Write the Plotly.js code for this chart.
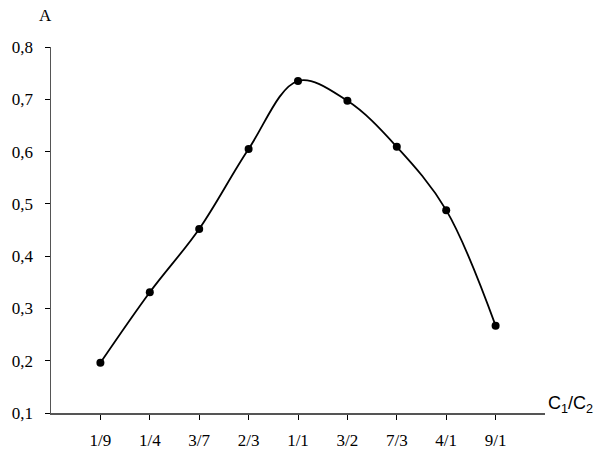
<!DOCTYPE html>
<html>
<head>
<meta charset="utf-8">
<script src="https://cdn.plot.ly/plotly-3.0.1.min.js"></script>
<style>html,body{margin:0;padding:0;background:#fff;}#chart{width:598px;height:452px;}</style>
</head>
<body>
<div id="chart"></div>
<script>
const ratios = ["1/9", "1/4", "3/7", "2/3", "1/1", "3/2", "7/3", "4/1", "9/1"];
const absorbance = [0.196, 0.331, 0.452, 0.605, 0.735, 0.697, 0.609, 0.488, 0.267];
const yTickVals = [0.1, 0.2, 0.3, 0.4, 0.5, 0.6, 0.7, 0.8];
const yTickText = ["0,1", "0,2", "0,3", "0,4", "0,5", "0,6", "0,7", "0,8"];
const yLabel = "A";
const xLabel = "C<sub>1</sub>/C<sub>2</sub>";

const SERIF = "Liberation Serif";
const SANS = "Liberation Sans";

const trace = {
  x: ratios,
  y: absorbance,
  type: "scatter",
  mode: "lines+markers",
  line: {shape: "spline", smoothing: 1, color: "#000", width: 1.8},
  marker: {color: "#000", size: 8},
  hoverinfo: "none"
};

const layout = {
  width: 598,
  height: 452,
  margin: {l: 51, r: 53, t: 47, b: 39},
  paper_bgcolor: "#fff",
  plot_bgcolor: "#fff",
  showlegend: false,
  font: {family: SERIF, size: 17, color: "#000"},
  xaxis: {
    type: "category",
    range: [-1, 9],
    showgrid: false,
    zeroline: false,
    showline: true,
    linecolor: "#555",
    linewidth: 1.5,
    ticks: "outside",
    ticklen: 5,
    tickcolor: "#000",
    tickwidth: 1,
    ticklabelstandoff: 6,
    tickfont: {family: SERIF, size: 17, color: "#000"}
  },
  yaxis: {
    range: [0.1, 0.8],
    tickvals: yTickVals,
    ticktext: yTickText,
    showgrid: false,
    zeroline: false,
    showline: true,
    linecolor: "#555",
    linewidth: 1.5,
    ticks: "outside",
    ticklen: 5,
    tickcolor: "#000",
    tickwidth: 1,
    ticklabelstandoff: 8,
    tickfont: {family: SERIF, size: 17, color: "#000"}
  },
  annotations: [
    {
      text: yLabel, xref: "paper", yref: "paper", x: -0.012, y: 1.087,
      xanchor: "center", yanchor: "middle", showarrow: false,
      font: {family: SERIF, size: 17, color: "#000"}
    },
    {
      text: xLabel, xref: "paper", yref: "paper", x: 1.002, y: 0,
      xanchor: "left", yanchor: "bottom", yshift: -5, showarrow: false,
      font: {family: SANS, size: 18, color: "#000"}
    }
  ]
};

Plotly.newPlot("chart", [trace], layout, {staticPlot: true, displayModeBar: false});
</script>
</body>
</html>
